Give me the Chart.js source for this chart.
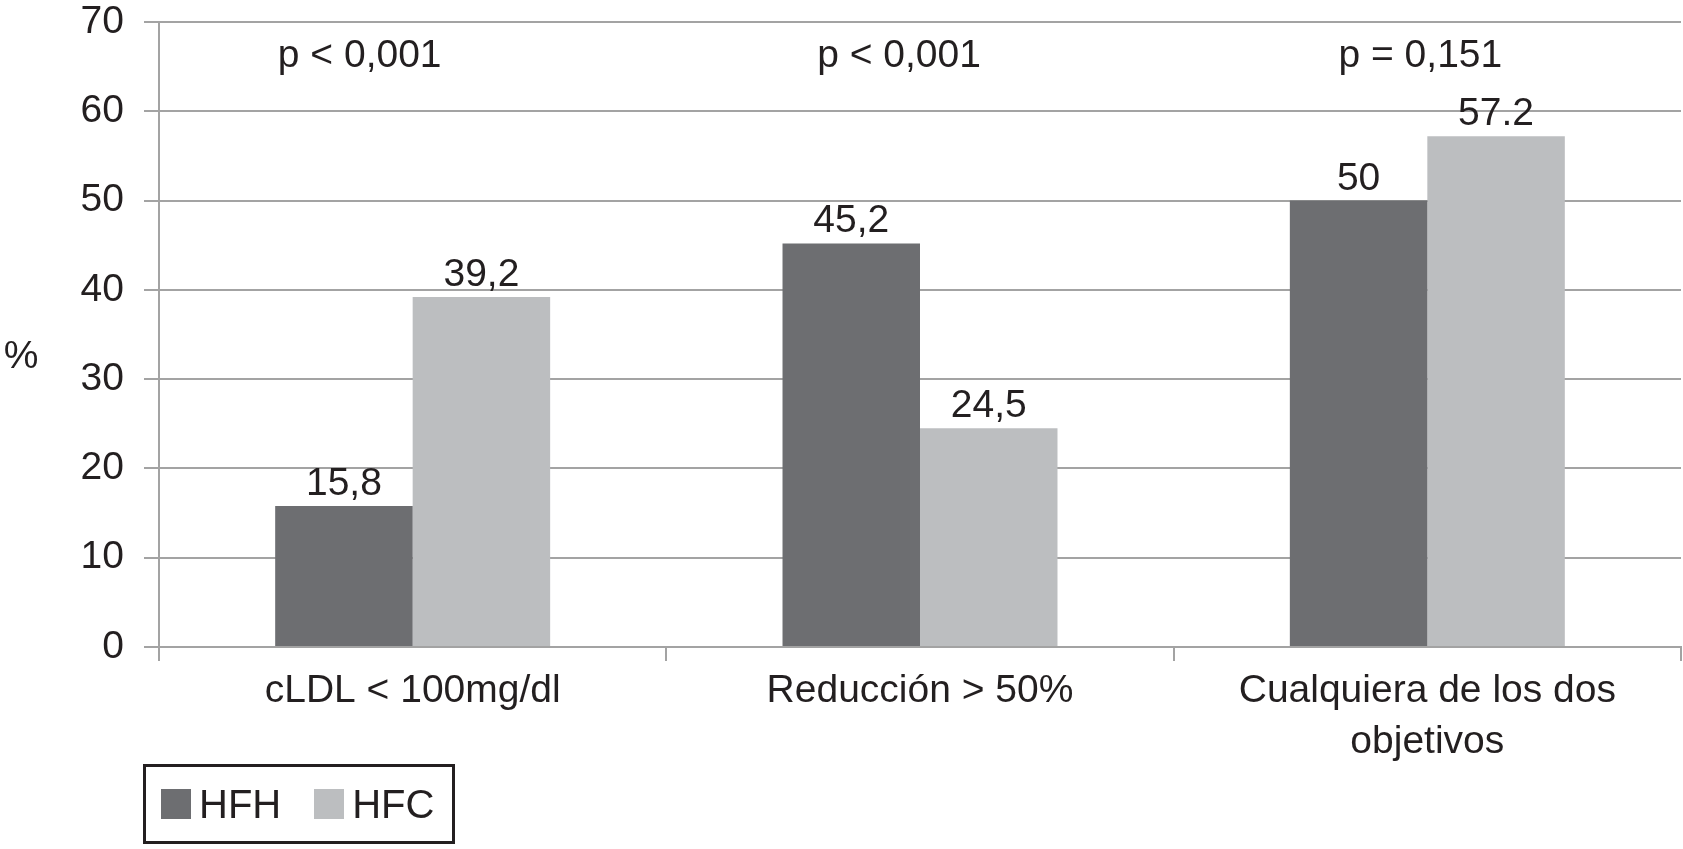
<!DOCTYPE html>
<html>
<head>
<meta charset="utf-8">
<script src="https://cdn.jsdelivr.net/npm/chart.js@4.4.0/dist/chart.umd.min.js"></script>
<style>
    html, body { margin: 0; padding: 0; background: #fff; }
    #wrap { position: relative; width: 1683px; height: 849px; }
    #legend {
        position: absolute; left: 143px; top: 764px; width: 306px; height: 74px;
        border: 3px solid #231f20; font-family: "Liberation Sans", Arial, sans-serif;
        font-size: 40px; color: #231f20; display: flex; align-items: center;
    }
    #legend .item { display: flex; align-items: center; margin-left: 15px; margin-right: 18px; }
    #legend .sw { width: 30px; height: 30px; margin-right: 8px; }
</style>
</head>
<body>
<div id="wrap">
    <canvas id="chart" width="1683" height="849"></canvas>
    <div id="legend"></div>
</div>
<script>
const categories = ['cLDL < 100mg/dl', 'Reducción > 50%', ['Cualquiera de los dos', 'objetivos']];
const seriesNames = ['HFH', 'HFC'];
const hfhValues = [15.8, 45.2, 50];
const hfcValues = [39.2, 24.5, 57.2];
const hfhLabels = ['15,8', '45,2', '50'];
const hfcLabels = ['39,2', '24,5', '57.2'];
const pValues = ['p < 0,001', 'p < 0,001', 'p = 0,151'];
const yTicks = [0, 10, 20, 30, 40, 50, 60, 70];
const yTitle = '%';

const textColor = '#231f20';
const gridColor = '#a3a3a3';
const fontFamily = '"Liberation Sans", Arial, sans-serif';

// value labels above bars, p-values on top, upright "%" title
const labelPlugin = {
    id: 'labels',
    afterDatasetsDraw(chart) {
        const ctx = chart.ctx;
        ctx.save();
        ctx.font = '39px ' + fontFamily;
        ctx.fillStyle = textColor;
        ctx.textAlign = 'center';
        ctx.textBaseline = 'alphabetic';
        const texts = [hfhLabels, hfcLabels];
        chart.data.datasets.forEach((ds, i) => {
            chart.getDatasetMeta(i).data.forEach((bar, j) => {
                ctx.fillText(texts[i][j], bar.x, bar.y - 11);
            });
        });
        const xs = chart.scales.x;
        const ys = chart.scales.y;
        const offsets = [-53, -21, -7];
        ctx.textBaseline = 'middle';
        pValues.forEach((p, j) => {
            ctx.fillText(p, xs.getPixelForValue(j) + offsets[j], ys.getPixelForValue(66.2));
        });
        ctx.fillText(yTitle, 21, ys.getPixelForValue(32.5));
        ctx.restore();
    }
};

const chart = new Chart(document.getElementById('chart'), {
    type: 'bar',
    data: {
        labels: categories,
        datasets: [
            { label: seriesNames[0], data: hfhValues, backgroundColor: '#6d6e71' },
            { label: seriesNames[1], data: hfcValues, backgroundColor: '#bcbec0' }
        ]
    },
    options: {
        responsive: false,
        animation: false,
        layout: { padding: { top: 22, right: 2, bottom: 0, left: 0 } },
        datasets: { bar: { categoryPercentage: 0.542, barPercentage: 1 } },
        plugins: { legend: { display: false }, tooltip: { enabled: false } },
        scales: {
            x: {
                grid: { drawOnChartArea: false, drawTicks: true, tickLength: 14, color: gridColor, lineWidth: 2, offset: true },
                border: { color: gridColor, width: 2 },
                ticks: { color: textColor, font: { family: fontFamily, size: 39, lineHeight: 1.3 }, padding: 5, maxRotation: 0, autoSkip: false },
                afterFit(scale) { scale.height = 202; }
            },
            y: {
                min: 0, max: 70,
                afterBuildTicks(scale) { scale.ticks = yTicks.map(v => ({ value: v })); },
                grid: { color: gridColor, lineWidth: 2, tickLength: 15 },
                border: { color: gridColor, width: 2 },
                ticks: { color: textColor, font: { family: fontFamily, size: 39, lineHeight: 0.5 }, padding: 20 },
                afterFit(scale) { scale.width = 159; scale.paddingTop = 0; }
            }
        }
    },
    plugins: [labelPlugin]
});

// boxed legend
const legend = document.getElementById('legend');
chart.data.datasets.forEach(ds => {
    const item = document.createElement('div');
    item.className = 'item';
    item.innerHTML = '<div class="sw" style="background:' + ds.backgroundColor + '"></div><span>' + ds.label + '</span>';
    legend.appendChild(item);
});
</script>
</body>
</html>
